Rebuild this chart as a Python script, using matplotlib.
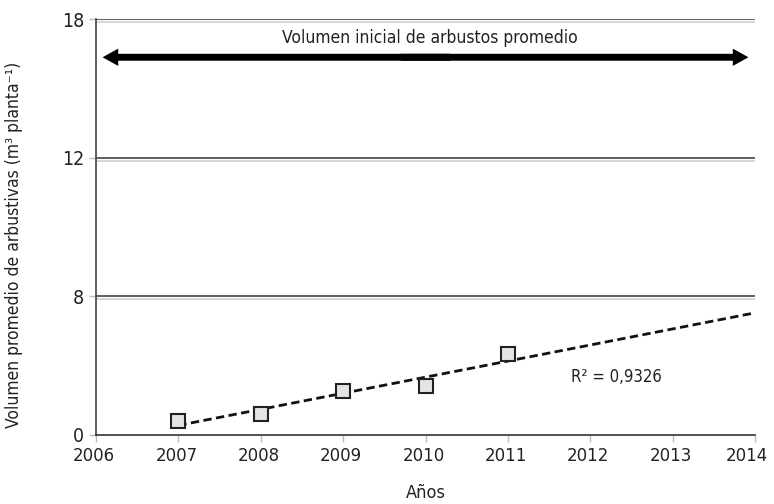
import numpy as np
import matplotlib
matplotlib.use("Agg")
from matplotlib import pyplot as plt
from matplotlib import patheffects as pe
from matplotlib.transforms import ScaledTranslation

years = [2007, 2008, 2009, 2010, 2011]
volumen = [0.62, 0.90, 1.90, 2.12, 3.49]

ytick_pos = [0, 6, 12, 18]
ytick_labels = ["0", "8", "12", "18"]
xticks = list(range(2006, 2015))

narrow = dict(family="DejaVu Sans", stretch="condensed")

fig = plt.figure(figsize=(7.74, 5.04), dpi=100)
ax = fig.add_axes([0.124, 0.137, 0.8515, 0.825])

# linea de tendencia
coef = np.polyfit(years, volumen, 1)
xt = np.array([2007, 2014])
ax.plot(xt, np.polyval(coef, xt), color="#111111", lw=2, ls=(0, (3, 1.6)), zorder=3)

ax.plot(years, volumen, ls="none", marker="s", ms=10, mfc="#e4e4e4",
        mec="#222222", mew=1.5, zorder=4)

shadow = [pe.SimpleLineShadow(offset=(0, -2), shadow_color="#d0d0d0", alpha=1),
          pe.Normal()]
for y in ytick_pos[1:]:
    ax.axhline(y, color="#444444", lw=1.2, zorder=1, path_effects=shadow)

# flecha doble: dos medias flechas que se solapan en el centro
x0, x1, ya = 2006.08, 2013.92, 16.35
xm = (x0 + x1) / 2
for xa, xb in [(xm - 0.3, x1), (xm + 0.3, x0)]:
    ax.arrow(xa, ya, xb - xa, 0, width=0.3, head_width=0.75, head_length=0.19,
             length_includes_head=True, color="black", lw=0, zorder=3)
ax.text(2010.05, 17.2, "Volumen inicial de arbustos promedio", ha="center",
        va="center", fontsize=12.5, color="#222222", **narrow)
ax.text(2011.77, 2.5, "R² = 0,9326", ha="left", va="center",
        fontsize=12, color="#222222", **narrow)

ax.set_xlim(2006, 2014)
ax.set_ylim(0, 18)
ax.set_xticks(xticks)
ax.set_xticklabels([str(x) for x in xticks], fontsize=12, color="#222222")
ax.set_yticks(ytick_pos)
ax.set_yticklabels(ytick_labels, fontsize=14, color="#222222", **narrow)
ax.tick_params(axis="both", length=5, color="#bbbbbb", width=1)

# el ultimo año se corre a la izquierda para que quepa
for lbl in ax.get_xticklabels():
    dx = -8 if lbl.get_text() == "2014" else -2
    lbl.set_transform(lbl.get_transform() + ScaledTranslation(dx / 100, 0, fig.dpi_scale_trans))

for s in ["top", "right"]:
    ax.spines[s].set_visible(False)
ax.spines["left"].set_color("#444444")
ax.spines["bottom"].set_color("#333333")
ax.spines["left"].set_linewidth(1.2)
ax.spines["bottom"].set_linewidth(1.2)

ax.set_xlabel("Años", fontsize=13, color="#222222", labelpad=14, **narrow)
ax.set_ylabel("Volumen promedio de arbustivas (m³ planta⁻¹)", fontsize=12.5,
              color="#222222", **narrow)
ax.yaxis.set_label_coords(-0.111, 0.457)

fig.savefig("out.png", dpi=100)
